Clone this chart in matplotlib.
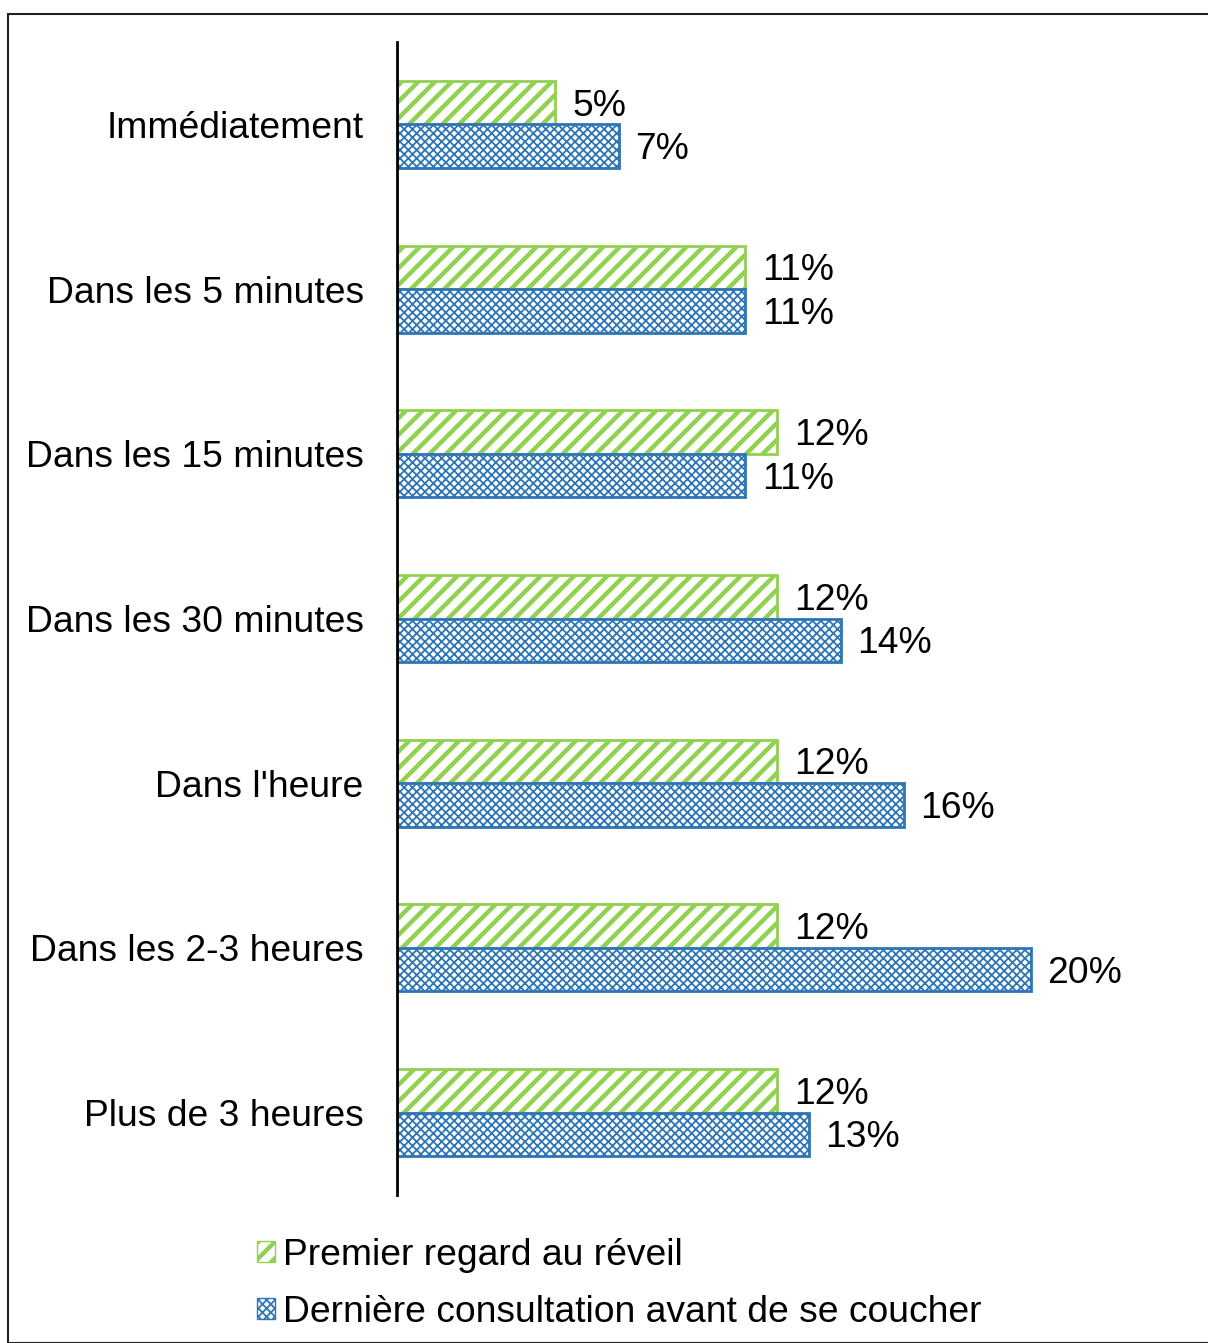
import matplotlib
matplotlib.use("Agg")
import matplotlib.pyplot as plt
import matplotlib.transforms as mtrans
from matplotlib.patches import Rectangle, Patch
import numpy as np

categories = ["Immédiatement", "Dans les 5 minutes", "Dans les 15 minutes",
              "Dans les 30 minutes", "Dans l'heure", "Dans les 2-3 heures",
              "Plus de 3 heures"]
premier = [5, 11, 12, 12, 12, 12, 12]
derniere = [7, 11, 11, 14, 16, 20, 13]
series_names = ["Premier regard au réveil", "Dernière consultation avant de se coucher"]

plt.rcParams['font.family'] = ['Liberation Sans', 'DejaVu Sans']
plt.rcParams['hatch.linewidth'] = 1.3

green = "#92D050"
blue = "#2E75B6"
FS = 26.8

fig = plt.figure(figsize=(12.08, 13.43), dpi=100)
ax = fig.add_axes([397/1208, 1 - 1195/1343, 792/1208, 1153/1343])

n = len(categories)
y = np.arange(n)
h = 0.264
b1 = ax.barh(y - h/2, premier, height=h, color="white", edgecolor=green,
             hatch="//", linewidth=2)
b2 = ax.barh(y + h/2, derniere, height=h, color="white", edgecolor=blue,
             hatch="xxxx", linewidth=2)


def set_hlw(p, lw):
    if hasattr(p, "set_hatch_linewidth"):
        p.set_hatch_linewidth(lw)
    else:
        p._hatch_linewidth = lw


for bar in b1:
    set_hlw(bar, 3.2)
for bar in b2:
    set_hlw(bar, 1.3)

for yi, v in zip(y - h/2, premier):
    ax.annotate(f"{v}%", (v, yi), xytext=(12, -2.5), textcoords="offset points",
                va="center", ha="left", fontsize=FS)
for yi, v in zip(y + h/2, derniere):
    ax.annotate(f"{v}%", (v, yi), xytext=(12, -2.5), textcoords="offset points",
                va="center", ha="left", fontsize=FS)

ax.set_xlim(0, 25)
ax.set_ylim(n - 0.5, -0.5)
ax.set_yticks(y)
ax.set_yticklabels(categories, fontsize=FS)
off = mtrans.ScaledTranslation(0, 2/100, fig.dpi_scale_trans)
for t in ax.get_yticklabels():
    t.set_transform(t.get_transform() + off)
ax.tick_params(axis='y', length=0, pad=24)
ax.set_xticks([])
for s in ["top", "right", "bottom"]:
    ax.spines[s].set_visible(False)
ax.spines["left"].set_linewidth(2)

p1 = Patch(facecolor="white", edgecolor=green, hatch="//", label=series_names[0])
p2 = Patch(facecolor="white", edgecolor=blue, hatch="xxxx", label=series_names[1])
leg = fig.legend(handles=[p1, p2], loc="upper left", bbox_to_anchor=(238/1208, 1 - 1219/1343),
                 frameon=False, fontsize=FS, handlelength=0.5, handleheight=0.5,
                 handletextpad=0.2, labelspacing=0.6, borderpad=0)
set_hlw(leg.get_patches()[0], 3.2)
set_hlw(leg.get_patches()[1], 1.3)

border = Rectangle((8/1208, 0), 1.2, 1 - 14/1343, transform=fig.transFigure,
                   fill=False, edgecolor="#222222", linewidth=1.5, clip_on=False)
fig.patches.append(border)

fig.savefig("out.png", dpi=100)
